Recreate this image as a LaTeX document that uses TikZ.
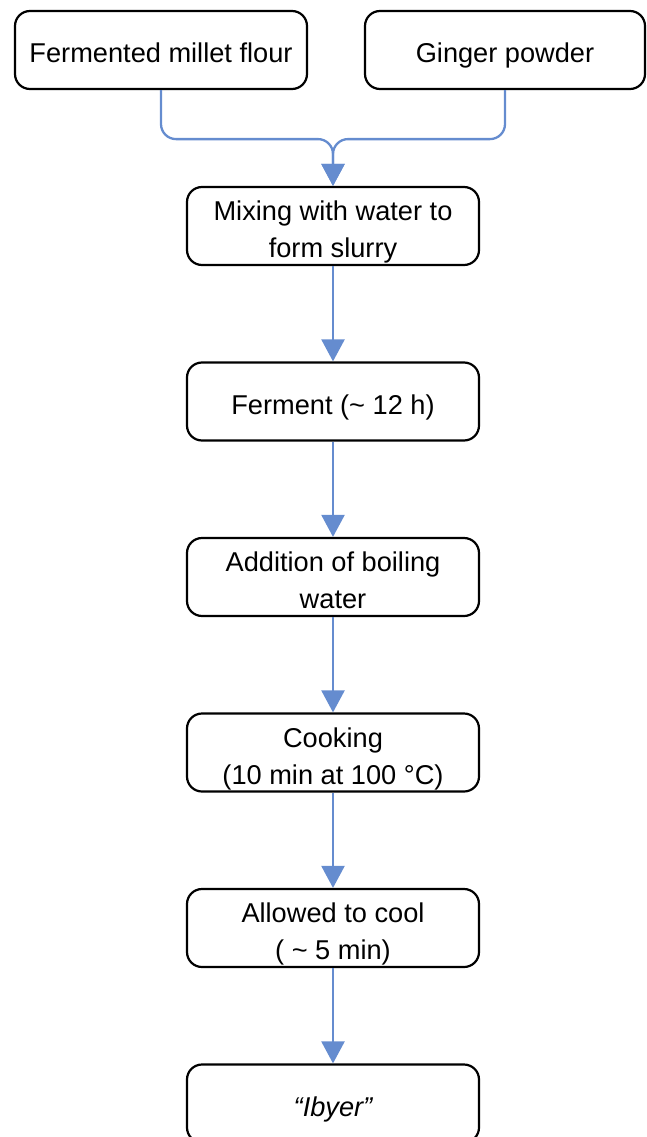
\documentclass[tikz,border=0pt]{standalone}
\usepackage{fontspec}
\setmainfont{Liberation Sans}
\usetikzlibrary{positioning,arrows.meta}
\definecolor{flowblue}{RGB}{101,140,207}

\begin{document}
\begin{tikzpicture}
  [x=1pt, y=1pt,
   node distance=95.3pt,
   line width=2.2pt,
   font=\fontsize{27.2}{37}\selectfont,
   procbox/.style={draw, rounded corners=15pt, minimum width=292pt,
                   minimum height=78pt, align=center, inner ysep=0pt,
                   text height=33pt, text depth=7pt},
   twoline/.style={text height=70pt, text depth=7pt},
   flow/.style={draw=flowblue, line width=2.3pt,
                -{Triangle[width=23pt, length=22pt]}}
  ]
  \useasboundingbox (0,0) rectangle (646,-1137);

  \node[procbox]                 (flour)   at (161,-50)      {Fermented millet flour};
  \node[procbox, minimum width=280pt]
                                 (ginger)  at (505,-50)      {Ginger powder};
  \node[procbox, twoline]        (mix)     at (333,-226)     {Mixing with water to\\form slurry};
  \node[procbox]                 (ferment) [below=of mix]     {Ferment (\textasciitilde{} 12 h)};
  \node[procbox, twoline]        (boil)    [below=of ferment] {Addition of boiling\\water};
  \node[procbox, twoline]        (cook)    [below=of boil]    {Cooking\\(10 min at 100 °C)};
  \node[procbox, twoline]        (cool)    [below=of cook]    {Allowed to cool\\( \textasciitilde{} 5 min)};
  \node[procbox, font=\fontsize{27.2}{37}\selectfont\itshape]
                                 (ibyer)   [below=of cool]    {“Ibyer”};

  \draw[flow, rounded corners=15pt] (flour.south) -- ++(0,-49) -| (mix.north);
  \draw[flow, rounded corners=15pt] (ginger.south) -- ++(0,-49) -| (mix.north);

  \path (mix)     edge [flow] (ferment)
        (ferment) edge [flow] (boil)
        (boil)    edge [flow] (cook)
        (cook)    edge [flow] (cool)
        (cool)    edge [flow] (ibyer)
        ;
\end{tikzpicture}
\end{document}
